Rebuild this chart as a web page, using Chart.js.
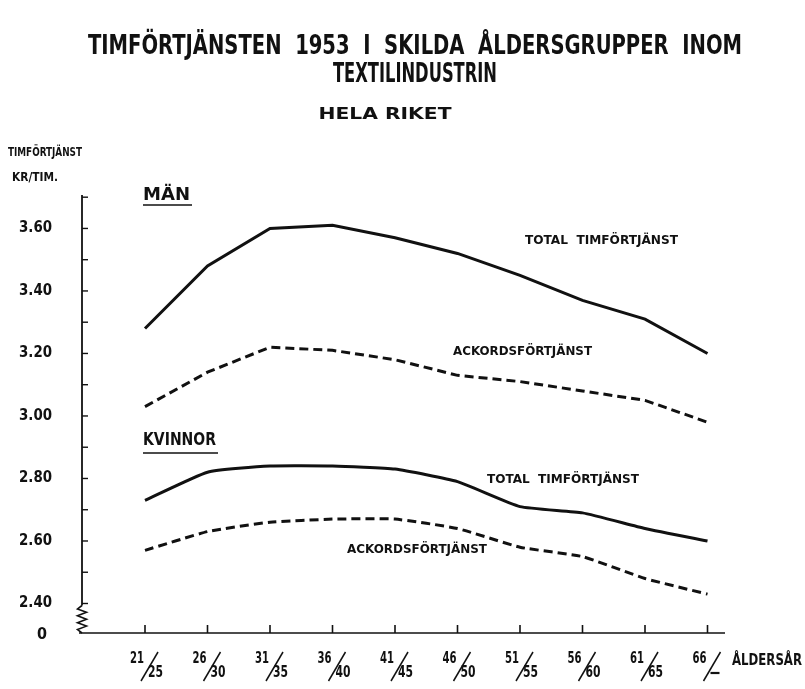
<!DOCTYPE html>
<html><head><meta charset="utf-8">
<script src="https://cdn.jsdelivr.net/npm/chart.js@4/dist/chart.umd.min.js"></script>
<style>html,body{margin:0;padding:0;background:#fff;overflow:hidden}#wrap{width:805px;height:689px;position:relative}</style>
</head><body><div id="wrap"><canvas id="c" width="805" height="689"></canvas></div>
<script>
// ---- data ----
const categories = ['21/25','26/30','31/35','36/40','41/45','46/50','51/55','56/60','61/65','66/-'];
const manTotal   = [3.28, 3.48, 3.60, 3.61, 3.57, 3.52, 3.45, 3.37, 3.31, 3.20];
const manPiece   = [3.03, 3.14, 3.22, 3.21, 3.18, 3.13, 3.11, 3.08, 3.05, 2.98];
const womenTotal = [2.73, 2.82, 2.84, 2.84, 2.83, 2.79, 2.71, 2.69, 2.64, 2.60];
const womenPiece = [2.57, 2.63, 2.66, 2.67, 2.67, 2.64, 2.58, 2.55, 2.48, 2.43];
const yTickLabels = ['2.40','2.60','2.80','3.00','3.20','3.40','3.60'];
const yMinorTicks = ['2.40','2.50','2.60','2.70','2.80','2.90','3.00','3.10','3.20','3.30','3.40','3.50','3.60','3.70'];
const yBaseLabel = '0';
const xAxisTitle = 'ÅLDERSÅR';
const titleLines = ['TIMFÖRTJÄNSTEN  1953  I  SKILDA  ÅLDERSGRUPPER  INOM', 'TEXTILINDUSTRIN'];
const subtitle = 'HELA RIKET';
const yAxisTitle = ['TIMFÖRTJÄNST', 'KR/TIM.'];
const groupLabels = ['MÄN', 'KVINNOR'];
const seriesLabels = ['TOTAL  TIMFÖRTJÄNST', 'ACKORDSFÖRTJÄNST'];

const FONT = "'Liberation Sans Narrow','DejaVu Sans Condensed','Arial Narrow','Liberation Sans',sans-serif";
const WIDE = "'DejaVu Sans','Liberation Sans',sans-serif";
const INK = '#111';

function fit(ctx, text, x, y, w, size, align, fam) {
  ctx.save();
  ctx.font = 'bold ' + size + 'px ' + (fam || FONT);
  ctx.fillStyle = INK;
  ctx.textBaseline = 'middle';
  ctx.textAlign = 'left';
  const m = ctx.measureText(text).width;
  const sx = w / m;
  let left = x;
  if (align === 'center') left = x - w / 2;
  else if (align === 'right') left = x - w;
  ctx.translate(left, y);
  ctx.scale(sx, 1);
  ctx.fillText(text, 0, 0);
  ctx.restore();
}

const toPts = arr => arr.map((v, i) => ({x: i, y: v}));

const axesPlugin = {
  id: 'axesPlugin',
  beforeDatasetsDraw(chart) {
    const ctx = chart.ctx, xs = chart.scales.x, ys = chart.scales.y;
    const x0 = xs.left, yb = ys.bottom, yt = ys.top;
    ctx.save();
    ctx.strokeStyle = INK; ctx.lineCap = 'butt';
    const yBreak = ys.getPixelForValue(parseFloat(yTickLabels[0])) + 2;
    ctx.lineWidth = 1.8;
    ctx.beginPath(); ctx.moveTo(x0, yt); ctx.lineTo(x0, yBreak); ctx.stroke();
    ctx.lineWidth = 1.6;
    ctx.beginPath(); ctx.moveTo(x0, yBreak);
    const n = 8, h = (yb - yBreak) / n;
    for (let k = 1; k <= n; k++) {
      const xx = k === n ? x0 : (k % 2 ? x0 - 4.5 : x0 + 4.5);
      ctx.lineTo(xx, yBreak + k * h);
    }
    ctx.stroke();
    ctx.lineWidth = 1.4;
    yMinorTicks.forEach(t => {
      const py = ys.getPixelForValue(parseFloat(t));
      ctx.beginPath(); ctx.moveTo(x0, py); ctx.lineTo(x0 + 6, py); ctx.stroke();
    });
    ctx.lineWidth = 1.6;
    ctx.beginPath(); ctx.moveTo(x0 - 3, yb); ctx.lineTo(xs.right, yb); ctx.stroke();
    categories.forEach((c, i) => {
      const px = xs.getPixelForValue(i);
      ctx.beginPath(); ctx.moveTo(px, yb); ctx.lineTo(px, yb - 8); ctx.stroke();
    });
    ctx.restore();
  },
  afterDraw(chart) {
    const ctx = chart.ctx, xs = chart.scales.x, ys = chart.scales.y;
    fit(ctx, titleLines[0], 415, 47, 654, 26, 'center');
    fit(ctx, titleLines[1], 415, 75, 164, 26, 'center');
    fit(ctx, subtitle, 385, 115, 133, 16, 'center', WIDE);
    fit(ctx, yAxisTitle[0], 8, 153, 74, 12, 'left');
    fit(ctx, yAxisTitle[1], 12, 178, 46, 12, 'left');
    yTickLabels.forEach(t => {
      fit(ctx, t, 52, ys.getPixelForValue(parseFloat(t)), 33, 15, 'right');
    });
    fit(ctx, yBaseLabel, 42, ys.bottom + 2, 10, 15, 'center');
    categories.forEach((c, i) => {
      const px = xs.getPixelForValue(i);
      const [num, den] = c.split('/');
      fit(ctx, num, px - 1, 659, 14, 16, 'right');
      ctx.save(); ctx.strokeStyle = INK; ctx.lineWidth = 1.5;
      ctx.beginPath(); ctx.moveTo(px - 4, 681); ctx.lineTo(px + 13, 652); ctx.stroke(); ctx.restore();
      if (den === '-') {
        ctx.save(); ctx.strokeStyle = INK; ctx.lineWidth = 2.2;
        ctx.beginPath(); ctx.moveTo(px + 3, 673); ctx.lineTo(px + 12, 673); ctx.stroke(); ctx.restore();
      } else {
        fit(ctx, den, px + 3, 673, 15, 16, 'left');
      }
    });
    fit(ctx, xAxisTitle, 732, 661, 70, 15, 'left');
    const gl = [[groupLabels[0], 143, 196, 47, 205], [groupLabels[1], 143, 441, 73, 453]];
    gl.forEach(([t, x, y, w, uy]) => {
      fit(ctx, t, x, y, w, 17, 'left', WIDE);
      ctx.save(); ctx.strokeStyle = INK; ctx.lineWidth = 1.6;
      ctx.beginPath(); ctx.moveTo(x, uy); ctx.lineTo(x + w + 2, uy); ctx.stroke(); ctx.restore();
    });
    fit(ctx, seriesLabels[0], 525, 241, 153, 13, 'left');
    fit(ctx, seriesLabels[1], 453, 352, 139, 13, 'left');
    fit(ctx, seriesLabels[0], 487, 480, 152, 13, 'left');
    fit(ctx, seriesLabels[1], 347, 550, 140, 13, 'left');
  }
};

const solid = {borderColor: INK, borderWidth: 3, pointRadius: 0, fill: false, tension: 0};
const dashed = {borderColor: INK, borderWidth: 3, pointRadius: 0, fill: false, tension: 0, borderDash: [9, 5]};

new Chart(document.getElementById('c'), {
  type: 'line',
  data: {
    datasets: [
      Object.assign({label: 'Män total timförtjänst', data: toPts(manTotal)}, solid),
      Object.assign({label: 'Män ackordsförtjänst', data: toPts(manPiece)}, dashed),
      Object.assign({label: 'Kvinnor total timförtjänst', data: toPts(womenTotal)}, solid, {tension: 0.15}),
      Object.assign({label: 'Kvinnor ackordsförtjänst', data: toPts(womenPiece)}, dashed, {tension: 0.15})
    ]
  },
  options: {
    responsive: false, animation: false, devicePixelRatio: 1,
    layout: {padding: {left: 82, right: 80, top: 195, bottom: 56}},
    scales: {
      x: {type: 'linear', min: -1.008, max: 9.28, display: false},
      y: {type: 'linear', min: 2.3056, max: 3.707, display: false}
    },
    plugins: {legend: {display: false}, tooltip: {enabled: false}}
  },
  plugins: [axesPlugin]
});
</script></body></html>
